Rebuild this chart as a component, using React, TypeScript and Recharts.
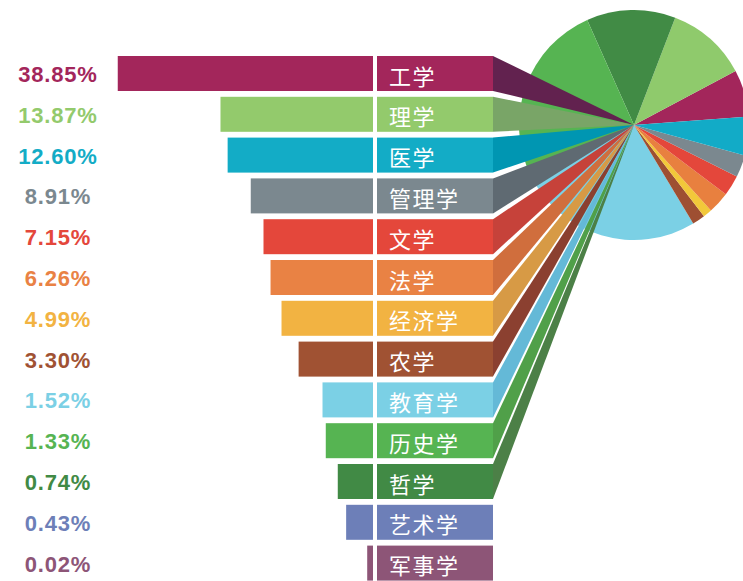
import { BarChart, Bar, XAxis, YAxis, PieChart, Pie, Cell } from 'recharts';

// 学科门类占比
const categories = ['工学', '理学', '医学', '管理学', '文学', '法学', '经济学', '农学', '教育学', '历史学', '哲学', '艺术学', '军事学'];
const shares = [38.85, 13.87, 12.6, 8.91, 7.15, 6.26, 4.99, 3.3, 1.52, 1.33, 0.74, 0.43, 0.02];

// decorative pie at the top right, slices (counter-clockwise from east)
const pieSlices = ['s1', 's2', 's3', 's4', 's5', 's6', 's7', 's8', 's9', 's10', 's11'];
const pieValues = [23.8, 41, 45, 92, 95, 6.5, 4.5, 11, 10.4, 11.2, 19.6];

const barColors = ['#a3265b', '#93ca6c', '#13acc6', '#7b888f', '#e4473b', '#e98244', '#f2b342', '#a05233', '#7bd0e5', '#56b452', '#418a45', '#6d7fb8', '#8d5577'];
const linkColors = ['#62224f', '#79a567', '#0096b2', '#5f6a72', '#c6423a', '#d06e3d', '#d79a45', '#8b4030', '#64b9d7', '#50a049', '#4c8047'];
const pieColors = ['#a3265b', '#8fca6c', '#418b45', '#56b452', '#7bd0e5', '#9e4f32', '#f2c83a', '#e8803f', '#e4473b', '#7b888f', '#12abc7'];

const W = 743;
const H = 581;
const PIE_CX = 634;
const PIE_CY = 125;
const PIE_R = 115;
const BOX_GAP = 4;
const BOX_W = 116;

const rows = categories.map((name, i) => ({ name, share: shares[i] }));
const pieData = pieSlices.map((name, i) => ({ name, value: pieValues[i] }));

const RowShape = (props: any) => {
  const { x, y, width, height, index } = props;
  const left = Math.min(x, x + width);
  const right = Math.max(x, x + width);
  const bx = right + BOX_GAP;
  const ex = bx + BOX_W;
  const color = barColors[index];
  return (
    <g>
      <rect x={left} y={y} width={right - left} height={height} fill={color} />
      {shares[index] >= 0.5 && (
        <polygon points={`${ex},${y} ${ex},${y + height} ${PIE_CX},${PIE_CY}`} fill={linkColors[index]} />
      )}
      <rect x={bx} y={y} width={BOX_W} height={height} fill={color} />
      <text
        x={bx + 12}
        y={y + height / 2 + 1}
        dominantBaseline="central"
        fill="#ffffff"
        fontFamily="'Noto Sans CJK SC', sans-serif"
        fontSize={22}
        letterSpacing={1.5}
      >
        {categories[index]}
      </text>
    </g>
  );
};

const PercentTick = (props: any) => {
  const { y, index } = props;
  return (
    <text
      x={58}
      y={y + 1}
      textAnchor="middle"
      dominantBaseline="central"
      fill={barColors[index]}
      fontFamily="'Liberation Sans', Arial, sans-serif"
      fontWeight={700}
      fontSize={22}
      letterSpacing={0.8}
    >
      {shares[index].toFixed(2)}%
    </text>
  );
};

export default function App() {
  return (
    <div style={{ position: 'absolute', left: 0, top: 0, width: W, height: H, overflow: 'hidden', background: '#fff' }}>
      <div style={{ position: 'absolute', left: 0, top: 0 }}>
        <PieChart width={W} height={H} margin={{ top: 0, right: 0, bottom: 0, left: 0 }}>
          <Pie
            data={pieData}
            dataKey="value"
            cx={PIE_CX}
            cy={PIE_CY}
            outerRadius={PIE_R}
            startAngle={4.2}
            endAngle={364.2}
            stroke="none"
            isAnimationActive={false}
          >
            {pieData.map((d, i) => (
              <Cell key={d.name} fill={pieColors[i]} />
            ))}
          </Pie>
        </PieChart>
      </div>
      <div style={{ position: 'absolute', left: 0, top: 0 }}>
        <BarChart
          width={W}
          height={600}
          data={rows}
          layout="vertical"
          barSize={35}
          margin={{ top: 53, right: 370, bottom: 16.6, left: 0 }}
        >
          <XAxis type="number" hide reversed scale="sqrt" domain={[0, 40]} />
          <YAxis
            type="category"
            dataKey="name"
            width={114}
            interval={0}
            axisLine={false}
            tickLine={false}
            tick={<PercentTick />}
          />
          <Bar dataKey="share" shape={<RowShape />} isAnimationActive={false} />
        </BarChart>
      </div>
    </div>
  );
}
